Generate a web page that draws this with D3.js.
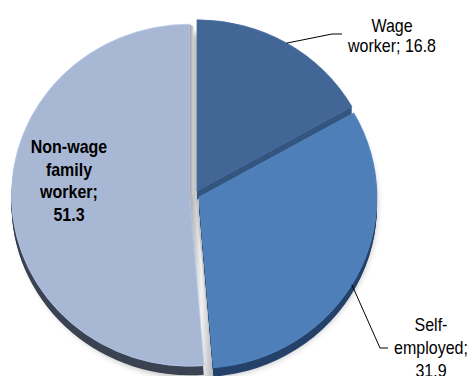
<!DOCTYPE html>
<html>
<head>
<meta charset="utf-8">
<script src="https://cdn.jsdelivr.net/npm/d3@7/dist/d3.min.js"></script>
<style>
  html, body { margin: 0; padding: 0; background: #ffffff; }
  svg { display: block; }
  text { font-family: Arial, "Liberation Sans", sans-serif; font-size: 18px; fill: #000; }
</style>
</head>
<body>
<svg id="chart" width="470" height="376"></svg>
<script>
// Employment status shares (%)
const categories = ["Wage worker", "Self-employed", "Non-wage family worker"];
const values = [16.8, 31.9, 51.3];
const labelLines = [
  ["Wage", "worker; 16.8"],
  ["Self-", "employed;", "31.9"],
  ["Non-wage", "family", "worker;", "51.3"]
];
const topColors = ["#426796", "#4f7fb8", "#a8b8d4"];
const sideColors = ["#34567f", "#25426a", "#3b4352"];

const svg = d3.select("#chart");
const defs = svg.append("defs");

// Pie geometry: slightly tilted (elliptical) 3D pie with exploded slices
const cx = 194.5, cy = 195, rx = 178, ry = 171, k = ry / rx;
const explode = 5, depth = 9;

const pie = d3.pie().sort(null).value(d => d);
const arcs = pie(values);
const arc = d3.arc().innerRadius(0).outerRadius(rx);

// soft drop shadow under the whole pie
defs.append("filter").attr("id", "blur").attr("x", "-20%").attr("y", "-20%")
  .attr("width", "140%").attr("height", "140%")
  .append("feGaussianBlur").attr("stdDeviation", 3);
svg.append("ellipse")
  .attr("cx", cx + 2).attr("cy", cy + depth + 2)
  .attr("rx", rx + 3).attr("ry", ry + 2)
  .attr("fill", "#000").attr("opacity", 0.22)
  .attr("filter", "url(#blur)");

// offset of each slice along its bisector
function offset(a) {
  const mid = (a.startAngle + a.endAngle) / 2;
  return [explode * Math.sin(mid), -explode * Math.cos(mid) * k];
}
// point on the elliptical rim of a slice, in page coordinates
function rimPoint(a, angle, rScale = 1) {
  const [ox, oy] = offset(a);
  return [cx + ox + rx * rScale * Math.sin(angle), cy + oy - ry * rScale * Math.cos(angle)];
}

// gradients for the radial side faces visible in the gaps
const g1 = defs.append("linearGradient").attr("id", "sideGap").attr("x1", 0).attr("x2", 1).attr("y1", 0).attr("y2", 0);
g1.append("stop").attr("offset", "0%").attr("stop-color", "#a7a9ad");
g1.append("stop").attr("offset", "50%").attr("stop-color", "#f2f2f2");
g1.append("stop").attr("offset", "100%").attr("stop-color", "#b5b7bb");
const g2 = defs.append("linearGradient").attr("id", "sideTop").attr("x1", 0).attr("x2", 1).attr("y1", 0).attr("y2", 0);
g2.append("stop").attr("offset", "0%").attr("stop-color", "#9a9c9f");
g2.append("stop").attr("offset", "100%").attr("stop-color", "#d4d5d7");

// extruded sides (swept downward)
const sides = svg.append("g");
arcs.forEach((a, i) => {
  const [ox, oy] = offset(a);
  for (let d = depth; d >= 1; d--) {
    sides.append("path")
      .attr("transform", `translate(${cx + ox},${cy + oy + d}) scale(1,${k})`)
      .attr("d", arc(a))
      .attr("fill", sideColors[i]);
  }
});

// light radial faces of the large slice, seen through the gaps
const big = arcs[2];
const [bx, by] = offset(big);
const vtx = [cx + bx, cy + by];
const topEdge = rimPoint(big, big.endAngle);
const lowEdge = rimPoint(big, big.startAngle);
sides.append("path")
  .attr("d", d3.line()([vtx, topEdge, [topEdge[0] + 4, topEdge[1] + 2], [vtx[0] + 4, vtx[1]]]) + "Z")
  .attr("fill", "url(#sideTop)");
sides.append("path")
  .attr("d", d3.line()([vtx, [vtx[0] + 6, vtx[1]], [lowEdge[0] + 9, lowEdge[1] + depth + 4], [lowEdge[0], lowEdge[1] + depth + 4]]) + "Z")
  .attr("fill", "url(#sideGap)");

// top faces
const tops = svg.append("g");
arcs.forEach((a, i) => {
  const [ox, oy] = offset(a);
  tops.append("path")
    .attr("transform", `translate(${cx + ox},${cy + oy}) scale(1,${k})`)
    .attr("d", arc(a))
    .attr("fill", topColors[i])
    .attr("stroke", d3.color(topColors[i]).brighter(0.25))
    .attr("stroke-width", 0.8)
    .attr("vector-effect", "non-scaling-stroke");
});

// labels: compressed Arial text, one tspan line per entry
function drawLabel(lines, x, baselines, bold) {
  const g = svg.append("g");
  lines.forEach((t, j) => {
    g.append("text")
      .attr("transform", `translate(${x},${baselines[j]}) scale(0.89,1)`)
      .attr("text-anchor", "middle")
      .attr("font-weight", bold ? "bold" : "normal")
      .text(t);
  });
}

// leader lines from the rim of the outer slices
const mid = a => (a.startAngle + a.endAngle) / 2;
const wStart = rimPoint(arcs[0], mid(arcs[0]));
svg.append("path")
  .attr("d", d3.line()([wStart, [332, 34], [342, 34]]))
  .attr("fill", "none").attr("stroke", "#000").attr("stroke-width", 1);
const sStart = rimPoint(arcs[1], mid(arcs[1]) + 0.05, 1.0);
svg.append("path")
  .attr("d", d3.line()([sStart, [380, 348], [388, 348]]))
  .attr("fill", "none").attr("stroke", "#000").attr("stroke-width", 1);

drawLabel(labelLines[0], 392, [31.5, 52], false);
drawLabel(labelLines[1], 431, [331, 354, 377], false);
drawLabel(labelLines[2], 69, [153, 175.5, 198, 220.5], true);
</script>
</body>
</html>
